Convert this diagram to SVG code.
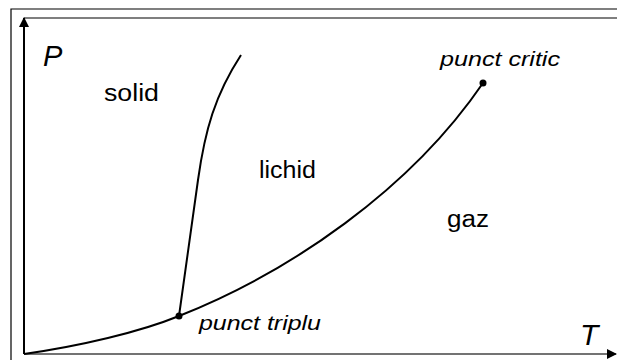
<svg xmlns="http://www.w3.org/2000/svg" width="617" height="360" viewBox="0 0 617 360">
<style>
.lbl{font-family:"Liberation Sans",Arial,sans-serif;fill:#000}
.it{font-style:italic}
.curve{fill:none;stroke:#000;stroke-width:2}
.frame{fill:none;stroke:#000;stroke-width:1.2}
</style>
<defs>
<marker id="ah" viewBox="0 0 10 10" refX="9" refY="5" markerWidth="10" markerHeight="10" markerUnits="userSpaceOnUse" orient="auto">
<path d="M0,0 L10,5 L0,10 Z" fill="#000"/>
</marker>
</defs>
<rect width="617" height="360" fill="#fff"/>
<g id="frame">
<path class="frame" d="M11,360 V9 H617"/>
<path class="frame" d="M24,18 H617"/>
</g>
<g id="connectors">
<line x1="24" y1="354" x2="24" y2="18" stroke="#000" stroke-width="2" marker-end="url(#ah)"/>
<line x1="24" y1="354" x2="616" y2="354" stroke="#444" stroke-width="1.5" marker-end="url(#ah)"/>
<path class="curve" d="M24,354 C80,346 140,332 179,316"/>
<path class="curve" d="M179,316 C290,272 410,190 483,83"/>
<path class="curve" d="M179,316 L198,180 C205,130 215,95 241,55"/>
</g>
<g id="triple"><circle cx="179" cy="316" r="3.5"/><text class="lbl it" x="199" y="330" font-size="21" textLength="122" lengthAdjust="spacingAndGlyphs">punct triplu</text></g>
<g id="critic"><circle cx="483" cy="83" r="3.5"/><text class="lbl it" x="440" y="66" font-size="21" textLength="120" lengthAdjust="spacingAndGlyphs">punct critic</text></g>
<g id="axisP"><text class="lbl it" x="43" y="66" font-size="29">P</text></g>
<g id="axisT"><text class="lbl it" x="580" y="345" font-size="30">T</text></g>
<g id="solid"><text class="lbl" x="104" y="101" font-size="23" textLength="55" lengthAdjust="spacingAndGlyphs">solid</text></g>
<g id="lichid"><text class="lbl" x="259" y="178" font-size="23" textLength="57" lengthAdjust="spacingAndGlyphs">lichid</text></g>
<g id="gaz"><text class="lbl" x="447" y="227" font-size="23" textLength="42" lengthAdjust="spacingAndGlyphs">gaz</text></g>
</svg>
